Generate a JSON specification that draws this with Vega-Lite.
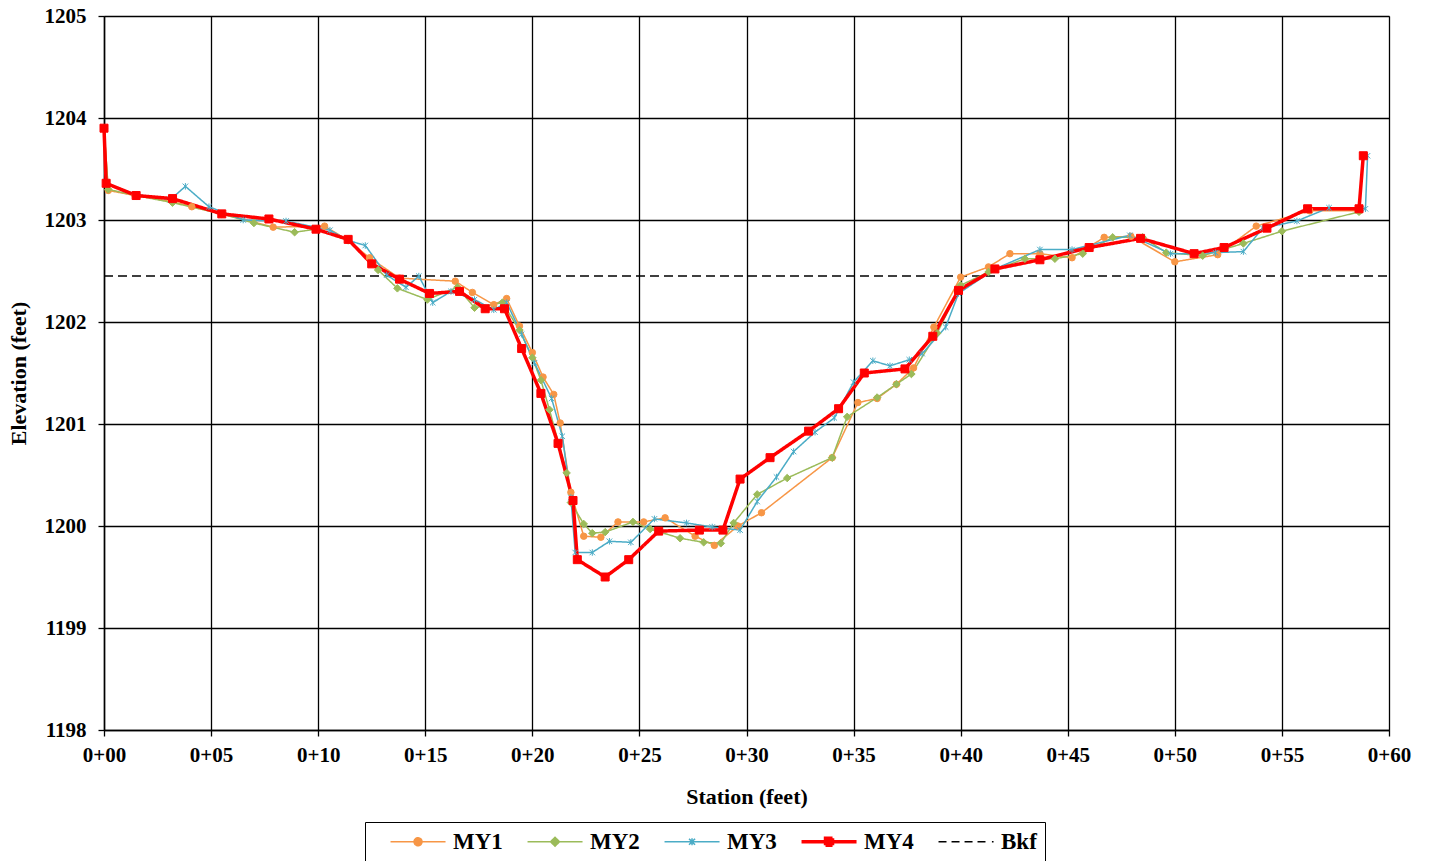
{
  "$schema": "https://vega.github.io/schema/vega-lite/v6.json",
  "width": 1285,
  "height": 714,
  "autosize": {"type": "none"},
  "padding": {"left": 104, "top": 16, "right": 40, "bottom": 131},
  "background": "white",
  "config": {
    "font": "Liberation Serif",
    "view": {"stroke": "#808080", "strokeWidth": 1},
    "axis": {
      "labelFont": "Liberation Serif", "labelFontWeight": "bold", "labelFontSize": 21, "labelColor": "black",
      "titleFont": "Liberation Serif", "titleFontWeight": "bold", "titleFontSize": 22, "titleColor": "black",
      "gridColor": "black", "gridWidth": 1.3, "gridOpacity": 1,
      "domainColor": "black", "domainWidth": 1.5, "tickColor": "black", "tickSize": 6, "tickWidth": 1.3
    }
  },
  "data": {"values": [
    {"s":"Bkf","x":0,"y":1202.45},{"s":"Bkf","x":60,"y":1202.45},
    {"s":"MY1","x":0,"y":1203.9},{"s":"MY1","x":0.2,"y":1203.29},{"s":"MY1","x":1.45,"y":1203.24},{"s":"MY1","x":3.2,"y":1203.18},{"s":"MY1","x":4.1,"y":1203.13},{"s":"MY1","x":5.5,"y":1203.06},{"s":"MY1","x":7.9,"y":1202.93},{"s":"MY1","x":10.3,"y":1202.94},{"s":"MY1","x":11.4,"y":1202.8},{"s":"MY1","x":12.4,"y":1202.63},{"s":"MY1","x":13.8,"y":1202.43},{"s":"MY1","x":16.4,"y":1202.4},{"s":"MY1","x":17.2,"y":1202.29},{"s":"MY1","x":18.2,"y":1202.17},{"s":"MY1","x":18.8,"y":1202.23},{"s":"MY1","x":19.4,"y":1201.96},{"s":"MY1","x":20.0,"y":1201.7},{"s":"MY1","x":20.5,"y":1201.46},{"s":"MY1","x":21.0,"y":1201.29},{"s":"MY1","x":21.3,"y":1201.01},{"s":"MY1","x":21.8,"y":1200.33},{"s":"MY1","x":22.4,"y":1199.9},{"s":"MY1","x":23.2,"y":1199.89},{"s":"MY1","x":24.0,"y":1200.04},{"s":"MY1","x":25.2,"y":1200.04},{"s":"MY1","x":26.2,"y":1200.08},{"s":"MY1","x":27.6,"y":1199.9},{"s":"MY1","x":28.5,"y":1199.81},{"s":"MY1","x":29.6,"y":1200.0},{"s":"MY1","x":30.7,"y":1200.13},{"s":"MY1","x":34.0,"y":1200.67},{"s":"MY1","x":35.2,"y":1201.21},{"s":"MY1","x":36.1,"y":1201.25},{"s":"MY1","x":37.0,"y":1201.39},{"s":"MY1","x":37.8,"y":1201.55},{"s":"MY1","x":38.75,"y":1201.95},{"s":"MY1","x":40.0,"y":1202.44},{"s":"MY1","x":41.3,"y":1202.54},{"s":"MY1","x":42.3,"y":1202.67},{"s":"MY1","x":43.7,"y":1202.67},{"s":"MY1","x":45.2,"y":1202.63},{"s":"MY1","x":46.7,"y":1202.83},{"s":"MY1","x":47.95,"y":1202.84},{"s":"MY1","x":50.0,"y":1202.59},{"s":"MY1","x":52.0,"y":1202.66},{"s":"MY1","x":53.8,"y":1202.94},{"s":"MY1","x":56.3,"y":1203.09},{"s":"MY1","x":58.6,"y":1203.09},
    {"s":"MY2","x":0,"y":1203.9},{"s":"MY2","x":0.2,"y":1203.3},{"s":"MY2","x":1.5,"y":1203.24},{"s":"MY2","x":3.2,"y":1203.17},{"s":"MY2","x":5.5,"y":1203.06},{"s":"MY2","x":7.0,"y":1202.97},{"s":"MY2","x":8.9,"y":1202.88},{"s":"MY2","x":9.9,"y":1202.91},{"s":"MY2","x":11.4,"y":1202.8},{"s":"MY2","x":12.8,"y":1202.51},{"s":"MY2","x":13.7,"y":1202.33},{"s":"MY2","x":15.1,"y":1202.22},{"s":"MY2","x":16.5,"y":1202.34},{"s":"MY2","x":17.3,"y":1202.14},{"s":"MY2","x":18.6,"y":1202.19},{"s":"MY2","x":19.4,"y":1201.92},{"s":"MY2","x":20.0,"y":1201.65},{"s":"MY2","x":20.4,"y":1201.43},{"s":"MY2","x":20.8,"y":1201.14},{"s":"MY2","x":21.6,"y":1200.52},{"s":"MY2","x":21.8,"y":1200.23},{"s":"MY2","x":22.4,"y":1200.02},{"s":"MY2","x":22.8,"y":1199.93},{"s":"MY2","x":23.4,"y":1199.94},{"s":"MY2","x":24.7,"y":1200.04},{"s":"MY2","x":25.5,"y":1199.97},{"s":"MY2","x":26.9,"y":1199.88},{"s":"MY2","x":28.0,"y":1199.84},{"s":"MY2","x":28.8,"y":1199.83},{"s":"MY2","x":29.4,"y":1200.03},{"s":"MY2","x":30.5,"y":1200.31},{"s":"MY2","x":31.9,"y":1200.47},{"s":"MY2","x":34.0,"y":1200.67},{"s":"MY2","x":34.7,"y":1201.07},{"s":"MY2","x":36.1,"y":1201.26},{"s":"MY2","x":37.0,"y":1201.39},{"s":"MY2","x":37.7,"y":1201.49},{"s":"MY2","x":38.9,"y":1201.89},{"s":"MY2","x":40.0,"y":1202.36},{"s":"MY2","x":41.3,"y":1202.49},{"s":"MY2","x":43.0,"y":1202.62},{"s":"MY2","x":44.4,"y":1202.62},{"s":"MY2","x":45.7,"y":1202.67},{"s":"MY2","x":47.1,"y":1202.83},{"s":"MY2","x":48.5,"y":1202.83},{"s":"MY2","x":49.6,"y":1202.68},{"s":"MY2","x":51.3,"y":1202.65},{"s":"MY2","x":53.2,"y":1202.77},{"s":"MY2","x":55.0,"y":1202.89},{"s":"MY2","x":58.6,"y":1203.08},
    {"s":"MY3","x":0,"y":1203.9},{"s":"MY3","x":0.1,"y":1203.36},{"s":"MY3","x":1.5,"y":1203.25},{"s":"MY3","x":3.1,"y":1203.2},{"s":"MY3","x":3.8,"y":1203.33},{"s":"MY3","x":4.9,"y":1203.13},{"s":"MY3","x":6.5,"y":1203.0},{"s":"MY3","x":8.5,"y":1202.99},{"s":"MY3","x":10.55,"y":1202.9},{"s":"MY3","x":11.4,"y":1202.8},{"s":"MY3","x":12.2,"y":1202.75},{"s":"MY3","x":13.2,"y":1202.46},{"s":"MY3","x":14.1,"y":1202.34},{"s":"MY3","x":14.7,"y":1202.45},{"s":"MY3","x":15.35,"y":1202.19},{"s":"MY3","x":16.2,"y":1202.3},{"s":"MY3","x":17.3,"y":1202.22},{"s":"MY3","x":18.2,"y":1202.12},{"s":"MY3","x":18.8,"y":1202.19},{"s":"MY3","x":19.5,"y":1201.88},{"s":"MY3","x":20.1,"y":1201.6},{"s":"MY3","x":20.9,"y":1201.25},{"s":"MY3","x":21.4,"y":1200.88},{"s":"MY3","x":21.8,"y":1200.28},{"s":"MY3","x":22.0,"y":1199.74},{"s":"MY3","x":22.8,"y":1199.74},{"s":"MY3","x":23.6,"y":1199.85},{"s":"MY3","x":24.6,"y":1199.84},{"s":"MY3","x":25.7,"y":1200.07},{"s":"MY3","x":27.2,"y":1200.03},{"s":"MY3","x":28.4,"y":1199.99},{"s":"MY3","x":29.7,"y":1199.96},{"s":"MY3","x":30.5,"y":1200.24},{"s":"MY3","x":31.4,"y":1200.48},{"s":"MY3","x":32.2,"y":1200.73},{"s":"MY3","x":33.2,"y":1200.92},{"s":"MY3","x":34.1,"y":1201.06},{"s":"MY3","x":35.0,"y":1201.41},{"s":"MY3","x":35.9,"y":1201.62},{"s":"MY3","x":36.7,"y":1201.57},{"s":"MY3","x":37.6,"y":1201.63},{"s":"MY3","x":38.2,"y":1201.69},{"s":"MY3","x":39.3,"y":1201.95},{"s":"MY3","x":39.9,"y":1202.28},{"s":"MY3","x":41.6,"y":1202.52},{"s":"MY3","x":43.7,"y":1202.71},{"s":"MY3","x":45.2,"y":1202.71},{"s":"MY3","x":47.9,"y":1202.85},{"s":"MY3","x":49.8,"y":1202.67},{"s":"MY3","x":50.9,"y":1202.67},{"s":"MY3","x":51.9,"y":1202.68},{"s":"MY3","x":53.2,"y":1202.69},{"s":"MY3","x":54.1,"y":1202.92},{"s":"MY3","x":55.7,"y":1202.99},{"s":"MY3","x":57.2,"y":1203.12},{"s":"MY3","x":58.9,"y":1203.11},{"s":"MY3","x":59.0,"y":1203.63},
    {"s":"MY4","x":0,"y":1203.9},{"s":"MY4","x":0.1,"y":1203.36},{"s":"MY4","x":1.5,"y":1203.24},{"s":"MY4","x":3.2,"y":1203.21},{"s":"MY4","x":5.5,"y":1203.06},{"s":"MY4","x":7.7,"y":1203.01},{"s":"MY4","x":9.9,"y":1202.91},{"s":"MY4","x":11.4,"y":1202.81},{"s":"MY4","x":12.5,"y":1202.57},{"s":"MY4","x":13.8,"y":1202.42},{"s":"MY4","x":15.2,"y":1202.28},{"s":"MY4","x":16.6,"y":1202.3},{"s":"MY4","x":17.8,"y":1202.13},{"s":"MY4","x":18.7,"y":1202.13},{"s":"MY4","x":19.5,"y":1201.74},{"s":"MY4","x":20.4,"y":1201.3},{"s":"MY4","x":21.2,"y":1200.81},{"s":"MY4","x":21.9,"y":1200.25},{"s":"MY4","x":22.1,"y":1199.67},{"s":"MY4","x":23.4,"y":1199.5},{"s":"MY4","x":24.5,"y":1199.67},{"s":"MY4","x":25.9,"y":1199.95},{"s":"MY4","x":27.8,"y":1199.96},{"s":"MY4","x":28.9,"y":1199.96},{"s":"MY4","x":29.7,"y":1200.46},{"s":"MY4","x":31.1,"y":1200.67},{"s":"MY4","x":32.9,"y":1200.93},{"s":"MY4","x":34.3,"y":1201.15},{"s":"MY4","x":35.5,"y":1201.5},{"s":"MY4","x":37.4,"y":1201.54},{"s":"MY4","x":38.7,"y":1201.86},{"s":"MY4","x":39.9,"y":1202.31},{"s":"MY4","x":41.6,"y":1202.52},{"s":"MY4","x":43.7,"y":1202.61},{"s":"MY4","x":46.0,"y":1202.73},{"s":"MY4","x":48.4,"y":1202.82},{"s":"MY4","x":50.9,"y":1202.67},{"s":"MY4","x":52.3,"y":1202.73},{"s":"MY4","x":54.3,"y":1202.92},{"s":"MY4","x":56.2,"y":1203.11},{"s":"MY4","x":58.6,"y":1203.11},{"s":"MY4","x":58.8,"y":1203.63}
  ]},
  "encoding": {
    "x": {"field": "x", "type": "quantitative",
      "scale": {"domain": [0, 60], "nice": false, "zero": false},
      "axis": {"values": [0,5,10,15,20,25,30,35,40,45,50,55,60], "labelExpr": "'0+' + (datum.value < 10 ? '0' + datum.value : datum.value)", "title": "Station (feet)", "labelPadding": 8, "titlePadding": 21, "labelFlush": false}},
    "y": {"field": "y", "type": "quantitative",
      "scale": {"domain": [1198, 1205], "nice": false, "zero": false},
      "axis": {"values": [1198,1199,1200,1201,1202,1203,1204,1205], "format": "d", "title": "Elevation (feet)", "labelPadding": 12, "titlePadding": 14, "labelFlush": false}}
  },
  "layer": [
    {
      "mark": {"type": "line", "strokeJoin": "round"},
      "encoding": {
        "color": {"field": "s", "type": "nominal",
          "scale": {"domain": ["MY1","MY2","MY3","MY4","Bkf"], "range": ["#F79646","#9BBB59","#4BACC6","#FF0000","#000000"]},
          "legend": {
            "orient": "none", "legendX": 261, "legendY": 806, "direction": "horizontal", "columns": 5,
            "title": null, "strokeColor": "black", "fillColor": "white", "padding": 8,
            "labelFont": "Liberation Serif", "labelFontWeight": "bold", "labelFontSize": 23, "labelColor": "black",
            "symbolSize": 196, "labelOffset": 57, "columnPadding": 7,
            "encoding": {
              "symbols": {
                "shape": {"value": {"expr": "datum.value==='MY1' ? 'M0.86,0H8.72M4.79,-0.57A0.57,0.57,0,1,1,4.79,0.57A0.57,0.57,0,1,1,4.79,-0.57Z' : datum.value==='MY2' ? 'M0.86,0H8.72M4.79,-0.64L5.43,0L4.79,0.64L4.15,0Z' : datum.value==='MY3' ? 'M0.86,0H8.72M4.36,-0.43L5.22,0.43M4.36,0.43L5.22,-0.43M4.79,-0.5V0.5' : datum.value==='MY4' ? 'M0.86,0H8.72M4.29,-0.5H5.29V0.5H4.29Z' : 'M0.86,0H2M2.72,0H3.86M4.58,0H5.72M6.43,0H7.57M8.49,0H8.72'"}},
                "fill": {"value": {"expr": "scale('color', datum.value)"}},
                "stroke": {"value": {"expr": "scale('color', datum.value)"}},
                "strokeWidth": {"value": {"expr": "datum.value==='MY4' ? 3.5 : 1.5"}},
                "opacity": {"value": 1},
                "fillOpacity": {"value": 1},
                "strokeDash": {"value": [1, 0]}
              }
            }
          }},
        "strokeWidth": {"field": "s", "type": "nominal",
          "scale": {"type": "ordinal", "domain": ["MY1","MY2","MY3","MY4","Bkf"], "range": [1.5,1.5,1.5,3.5,1.5]}, "legend": null},
        "strokeDash": {"field": "s", "type": "nominal",
          "scale": {"domain": ["MY1","MY2","MY3","MY4","Bkf"], "range": [[1,0],[1,0],[1,0],[1,0],[9,5]]}, "legend": null}
      }
    },
    {
      "transform": [{"filter": "datum.s !== 'Bkf'"}],
      "mark": {"type": "point", "filled": true, "strokeWidth": 1, "opacity": 1},
      "encoding": {
        "fill": {"field": "s", "type": "nominal",
          "scale": {"domain": ["MY1","MY2","MY3","MY4"], "range": ["#F79646","#9BBB59","#4BACC6","#FF0000"]}, "legend": null},
        "stroke": {"field": "s", "type": "nominal",
          "scale": {"domain": ["MY1","MY2","MY3","MY4"], "range": ["#F79646","#9BBB59","#4BACC6","#FF0000"]}, "legend": null},
        "shape": {"field": "s", "type": "nominal",
          "scale": {"domain": ["MY1","MY2","MY3","MY4"], "range": ["circle","diamond","M-1,-1L1,1M-1,1L1,-1M0,-1.2V1.2","square"]}, "legend": null},
        "size": {"field": "s", "type": "nominal",
          "scale": {"type": "ordinal", "domain": ["MY1","MY2","MY3","MY4"], "range": [42, 56, 30, 64]}, "legend": null}
      }
    }
  ]
}
